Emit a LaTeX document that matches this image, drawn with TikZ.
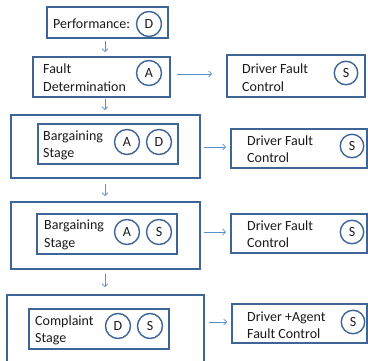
\documentclass[tikz,border=0pt]{standalone}
\usepackage{fontspec}
\setmainfont{Carlito}
\usetikzlibrary{arrows.meta}
\definecolor{bordc}{HTML}{3E6595}
\definecolor{arrc}{HTML}{5B8FD0}
\definecolor{txtc}{HTML}{1A1A1A}
\begin{document}
\begin{tikzpicture}[x=1pt,y=-1pt,
  boxst/.style={draw=bordc,line width=1.6pt,rectangle,inner sep=0pt},
  circst/.style={draw=bordc,line width=1.4pt,circle,minimum size=25pt,inner sep=0pt,text=txtc,font=\fontsize{14}{16}\selectfont},
  lbl/.style={anchor=west,inner sep=0pt,align=left,text=txtc,font=\fontsize{14}{17.5}\selectfont},
  arr/.style={draw=arrc,line width=0.75pt,-{Straight Barb[length=3pt,width=6pt]}}]
\useasboundingbox (0,0) rectangle (368,361);
\clip (0,0) rectangle (368,361);
\coordinate (ax) at (105,0);
% row 1
\node[boxst,minimum width=121pt,minimum height=31pt] (perf) at (107.5,22.5) {};
\node[lbl] (perft) at (53,24) {Performance:};
\node[circst] (perfD) at (149,24) {D};
% row 2
\node[boxst,minimum width=137pt,minimum height=40pt] (fault) at (101.5,77) {};
\node[lbl] (faultt) at (43,77.5) {Fault\\Determination};
\node[circst] (faultA) at (149,73) {A};
\node[boxst,minimum width=138pt,minimum height=42pt] (drv1) at (296,76) {};
\node[lbl] (drv1t) at (242,77.5) {Driver Fault\\Control};
\node[circst,minimum size=23.5pt] (drv1S) at (346,73) {S};
% row 3
\node[boxst,minimum width=189pt,minimum height=63pt] (out1) at (105.5,146.5) {};
\node[boxst,minimum width=140pt,minimum height=40pt] (in1) at (108,144) {};
\node[lbl] (in1t) at (43,145.5) {Bargaining\\Stage};
\node[circst] (in1A) at (127,142) {A};
\node[circst] (in1D) at (159,142) {D};
\node[boxst,minimum width=136pt,minimum height=39pt] (drv2) at (299,148.5) {};
\node[lbl] (drv2t) at (247,149) {Driver Fault\\Control};
\node[circst,minimum size=23.5pt] (drv2S) at (352,146) {S};
% row 4
\node[boxst,minimum width=189pt,minimum height=67pt] (out2) at (105.5,235.5) {};
\node[boxst,minimum width=140pt,minimum height=40pt] (in2) at (107,234) {};
\node[lbl] (in2t) at (44,235) {Bargaining\\Stage};
\node[circst] (in2A) at (127,232) {A};
\node[circst] (in2S) at (159,232) {S};
\node[boxst,minimum width=136pt,minimum height=39pt] (drv3) at (299,233.5) {};
\node[lbl] (drv3t) at (247,234) {Driver Fault\\Control};
\node[circst,minimum size=23.5pt] (drv3S) at (352,232) {S};
% row 5
\node[boxst,minimum width=197pt,minimum height=90pt] (out3) at (105.5,340) {};
\node[boxst,minimum width=140pt,minimum height=40pt] (in3) at (99,329) {};
\node[lbl] (in3t) at (35,330.5) {Complaint\\Stage};
\node[circst] (in3D) at (118,326) {D};
\node[circst] (in3S) at (150,326) {S};
\node[boxst,minimum width=135pt,minimum height=39pt] (drv4) at (299.5,323.5) {};
\node[lbl] (drv4t) at (247,325) {Driver +Agent\\Fault Control};
\node[circst,minimum size=23.5pt] (drv4S) at (353,322) {S};
% vertical arrows
\draw[arr,shorten <=2pt,shorten >=4pt] (perf.south -| ax) -- (fault.north -| ax);
\draw[arr,shorten <=1pt,shorten >=4pt] (fault.south -| ax) -- (out1.north -| ax);
\draw[arr,shorten <=5pt,shorten >=5pt] (out1.south -| ax) -- (out2.north -| ax);
\draw[arr,shorten <=4pt,shorten >=7pt] (out2.south -| ax) -- (out3.north -| ax);
% horizontal arrows
\coordinate (h1) at (0,74);
\coordinate (h2) at (0,147);
\coordinate (h3) at (0,232);
\coordinate (h4) at (0,322);
\draw[arr,shorten <=6pt,shorten >=14pt] (fault.east |- h1) -- (drv1.west |- h1);
\draw[arr,shorten <=3pt,shorten >=4pt] (out1.east |- h2) -- (drv2.west |- h2);
\draw[arr,shorten <=3pt,shorten >=4pt] (out2.east |- h3) -- (drv3.west |- h3);
\draw[arr,shorten <=4pt,shorten >=4pt] (out3.east |- h4) -- (drv4.west |- h4);
\end{tikzpicture}
\end{document}
